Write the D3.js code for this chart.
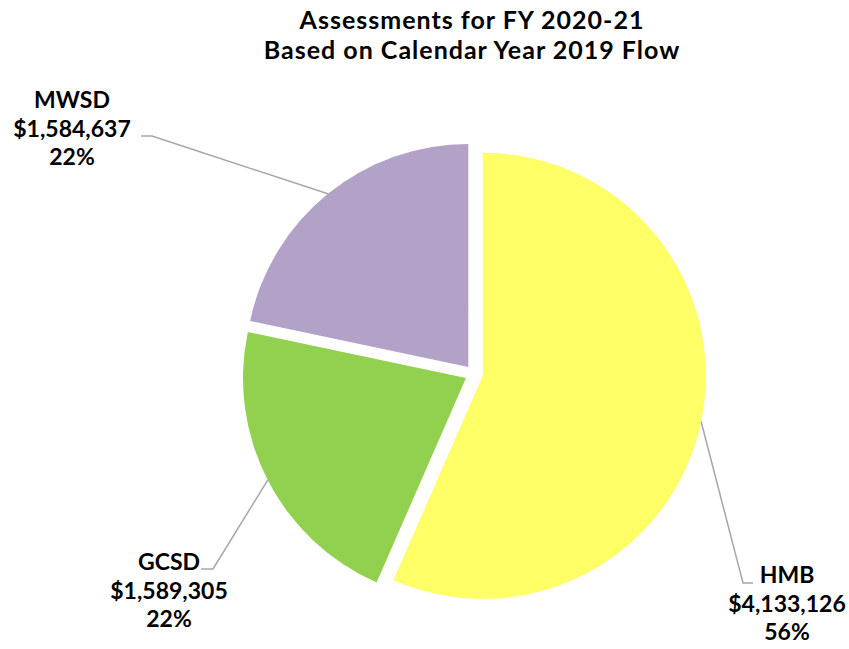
<!DOCTYPE html>
<html>
<head>
<meta charset="utf-8">
<script src="https://cdn.jsdelivr.net/npm/d3@7"></script>
<style>
  html, body { margin: 0; padding: 0; background: #fff; }
  svg text { font-family: Lato, "Open Sans", sans-serif; font-weight: 700; fill: #000; }
</style>
</head>
<body>
<svg id="chart" width="849" height="649"></svg>
<script>
// Assessment shares by agency
const agencies = ["HMB", "GCSD", "MWSD"];
const assessments = [4133126, 1589305, 1584637];
const percentLabels = ["56%", "22%", "22%"];
const sliceColors = ["#FFFF66", "#92D050", "#B3A2C7"];
const titleLines = ["Assessments for FY 2020-21", "Based on Calendar Year 2019 Flow"];

const W = 849, H = 649;
const cx = 474, cy = 374, R = 223, explode = 9;

// label block placement (centre x, first line y) and elbow of each leader
const labelLayout = [
  { x: 787, y: 575, elbow: [743, 583], end: [753, 583] },
  { x: 169, y: 562, elbow: [213, 569], end: [201, 569] },
  { x: 72,  y: 100, elbow: [152, 136], end: [141, 136] }
];

const svg = d3.select("#chart");

// two-line title
svg.selectAll("text.title")
  .data(titleLines)
  .join("text")
  .attr("class", "title")
  .attr("x", 472)
  .attr("y", (d, i) => 29 + i * 30)
  .attr("text-anchor", "middle")
  .style("font-size", "25px")
  .style("letter-spacing", "1px")
  .text(d => d);

const pie = d3.pie().sort(null).value(d => d)(assessments);
const arc = d3.arc().innerRadius(0).outerRadius(R);
const fmt = d3.format("$,");

const g = svg.append("g").attr("transform", `translate(${cx},${cy})`);

pie.forEach((p, i) => {
  const mid = (p.startAngle + p.endAngle) / 2;
  const ox = Math.sin(mid) * explode, oy = -Math.cos(mid) * explode;
  g.append("path")
    .attr("d", arc(p))
    .attr("transform", `translate(${ox},${oy})`)
    .attr("fill", sliceColors[i]);

  // leader from slice edge at mid-angle to the label
  const sx = cx + ox + Math.sin(mid) * R;
  const sy = cy + oy - Math.cos(mid) * R;
  const L = labelLayout[i];
  svg.append("polyline")
    .attr("points", [[sx, sy], L.elbow, L.end].map(q => q.join(",")).join(" "))
    .attr("fill", "none")
    .attr("stroke", "#A6A6A6")
    .attr("stroke-width", 1.5);

  const lines = [agencies[i], fmt(assessments[i]), percentLabels[i]];
  svg.append("g").selectAll("text")
    .data(lines)
    .join("text")
    .attr("x", L.x)
    .attr("y", L.y)
    .attr("dy", (d, j) => (j * 28.5 + 8) + "px")
    .attr("text-anchor", "middle")
    .style("font-size", "23px")
    .text(d => d);
});
</script>
</body>
</html>
